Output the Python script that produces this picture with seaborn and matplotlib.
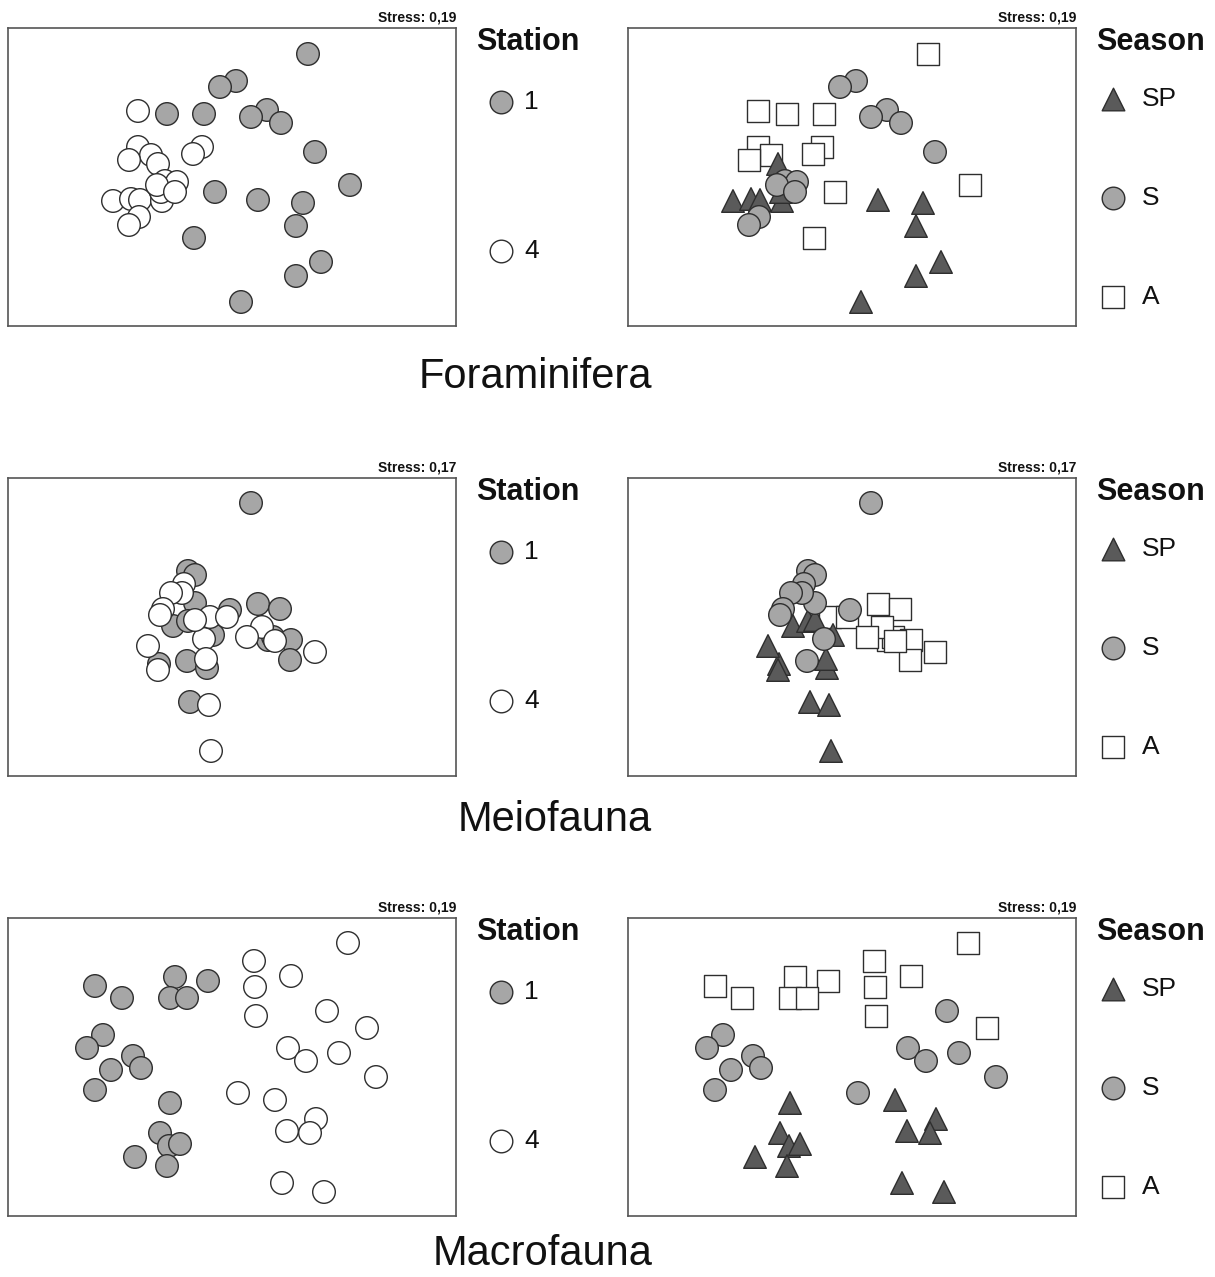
import matplotlib.pyplot as plt
import pandas as pd
import seaborn as sns

# nMDS ordinations : station (1 vs 4) and season (SP, S, A)
sns.set_theme(style="white")
plt.rcParams['font.family'] = ['Liberation Sans', 'DejaVu Sans']

# --- Foraminifera (stress 0,19) ---
FORA_X = [0.76, 0.04, -0.12, -0.65, -0.28, 0.35, 0.19, 0.49, 0.83, 1.18, -0.17, 0.26, 0.71, 0.64, -0.38, 0.89, 0.64, 0.09,
          -0.94, -0.94, -0.81, -1.03, -0.30, -0.39, -0.74, -1.19, -1.01, -0.92, -0.70, -0.71, -0.67, -0.55, -0.75, -0.57, -0.93, -1.03]
FORA_Y = [1.23, 0.96, 0.90, 0.63, 0.63, 0.67, 0.60, 0.54, 0.25, -0.08, -0.15, -0.23, -0.26, -0.49, -0.61, -0.85, -0.99, -1.25,
          0.66, 0.30, 0.22, 0.17, 0.30, 0.23, 0.13, -0.24, -0.22, -0.23, -0.24, -0.15, -0.04, -0.05, -0.08, -0.15, -0.40, -0.48]
FORA_STATION = ['1'] * 18 + ['4'] * 18
FORA_SEASON = ['A', 'S', 'S', 'A', 'A', 'S', 'S', 'S', 'S', 'A', 'A', 'SP', 'SP', 'SP', 'A', 'SP', 'SP', 'SP',
               'A', 'A', 'A', 'A', 'A', 'A', 'SP', 'SP', 'SP', 'SP', 'SP', 'SP', 'S', 'S', 'S', 'S', 'S', 'S']

# --- Meiofauna (stress 0,17) ---
MEIO_X = [0.19, -0.44, -0.37, -0.37, -0.02, -0.45, 0.26, 0.48, 0.36, 0.41, 0.59, 0.58, -0.59, -0.44, -0.19, -0.73, -0.25, -0.42,
          -0.48, -0.50, -0.61, -0.69, -0.72, -0.28, -0.22, -0.05, 0.30, 0.15, 0.43, 0.83, -0.84, -0.74, -0.26, -0.23, -0.21, -0.37]
MEIO_Y = [1.24, 0.56, 0.52, 0.24, 0.17, -0.34, 0.23, 0.18, -0.13, -0.10, -0.13, -0.33, 0.01, 0.06, -0.08, -0.37, -0.41, -0.75,
          0.43, 0.34, 0.34, 0.18, 0.12, -0.12, 0.10, 0.10, 0.00, -0.10, -0.14, -0.25, -0.19, -0.43, -0.32, -0.78, -1.24, 0.07]
MEIO_STATION = ['1'] * 18 + ['4'] * 18
MEIO_SEASON = (['S'] * 6 + ['A'] * 6 + ['SP'] * 6) * 2

# --- Macrofauna (stress 0,19) ---
MACRO_X = [-1.37, -1.10, -0.57, -0.24, -0.62, -0.45, -1.29, -1.45, -0.99, -0.91, -1.21, -1.37, -0.62, -0.72, -0.63, -0.52, -0.97, -0.65,
           1.16, 0.22, 0.23, 0.59, 0.24, 1.35, 0.95, 0.56, 0.74, 1.07, 1.44, 0.06, 0.43, 0.84, 0.55, 0.78, 0.50, 0.92]
MACRO_Y = [0.81, 0.69, 0.90, 0.86, 0.69, 0.69, 0.32, 0.19, 0.11, -0.01, -0.03, -0.23, -0.36, -0.66, -0.79, -0.77, -0.90, -0.99,
           1.24, 1.06, 0.80, 0.91, 0.51, 0.39, 0.56, 0.19, 0.06, 0.14, -0.10, -0.26, -0.33, -0.52, -0.64, -0.66, -1.16, -1.25]
MACRO_STATION = ['1'] * 18 + ['4'] * 18
MACRO_SEASON = (['A'] * 6 + ['S'] * 6 + ['SP'] * 6) * 2

GROUPS = ['Foraminifera', 'Meiofauna', 'Macrofauna']
STRESS = ['0,19', '0,17', '0,19']
STATIONS = ['1', '4']
SEASONS = ['SP', 'S', 'A']

# styles
station_pal = {'1': '#a6a6a6', '4': 'white'}
season_pal = {'SP': '#5a5a5a', 'S': '#a6a6a6', 'A': 'white'}
season_mk = {'SP': '^', 'S': 'o', 'A': 's'}
EDGE = '#2e2e2e'
SIZE = 265

W, H = 1215, 1277
fig = plt.figure(figsize=(W / 100, H / 100), dpi=100)

tables = [
    pd.DataFrame({'NMDS1': FORA_X, 'NMDS2': FORA_Y, 'Station': FORA_STATION, 'Season': FORA_SEASON}),
    pd.DataFrame({'NMDS1': MEIO_X, 'NMDS2': MEIO_Y, 'Station': MEIO_STATION, 'Season': MEIO_SEASON}),
    pd.DataFrame({'NMDS1': MACRO_X, 'NMDS2': MACRO_Y, 'Station': MACRO_STATION, 'Season': MACRO_SEASON}),
]

row_top = [28, 478, 918]        # panel tops (px)
title_base = [388, 831, 1265]   # baseline of the group names (px)
pw, ph = 448, 298


def frame(ax, stress):
    ax.set_xlim(-2.24, 2.24)
    ax.set_ylim(-1.49, 1.49)
    ax.set_xticks([])
    ax.set_yticks([])
    ax.set_xlabel('')
    ax.set_ylabel('')
    for sp in ax.spines.values():
        sp.set_visible(True)
        sp.set_color('#555555')
        sp.set_linewidth(1.2)
    ax.text(1.0, 1.012, f'Stress: {stress}', transform=ax.transAxes, ha='right', va='bottom',
            fontsize=10, fontweight='bold', color='#111111')


def key(left, top, width, title, labels, markers, colors, ys, mx, tx):
    lax = fig.add_axes([left / W, 1 - (top + ph) / H, width / W, ph / H])
    lax.set_xlim(0, width)
    lax.set_ylim(ph, 0)
    lax.axis('off')
    lax.text(20, 14, title, fontsize=22, fontweight='bold', ha='left', va='center', color='#111111')
    for lab, m, c, y in zip(labels, markers, colors, ys):
        lax.scatter([mx], [y], marker=m, s=SIZE, facecolor=c, edgecolor=EDGE, linewidth=1, clip_on=False)
        lax.text(tx, y, lab, fontsize=19, ha='left', va='center', color='#111111')


for i, df in enumerate(tables):
    top = row_top[i]
    bottom = 1 - (top + ph) / H

    # station panel
    ax1 = fig.add_axes([8 / W, bottom, pw / W, ph / H])
    sns.scatterplot(data=df, x='NMDS1', y='NMDS2', hue='Station', palette=station_pal,
                    marker='o', s=SIZE, edgecolor=EDGE, linewidth=1, legend=False, ax=ax1)
    frame(ax1, STRESS[i])

    # season panel (squares under triangles under circles)
    order = {'A': 0, 'SP': 1, 'S': 2}
    dfs = df.assign(o=df['Season'].map(order)).sort_values('o', kind='stable')
    ax2 = fig.add_axes([628 / W, bottom, pw / W, ph / H])
    sns.scatterplot(data=dfs, x='NMDS1', y='NMDS2', hue='Season', style='Season',
                    palette=season_pal, markers=season_mk, s=SIZE, edgecolor=EDGE,
                    linewidth=1, legend=False, ax=ax2)
    frame(ax2, STRESS[i])

    key(456, top, 164, 'Station', STATIONS, ['o', 'o'],
        [station_pal[s] for s in STATIONS], [74, 223], 45, 68)
    key(1076, top, 139, 'Season', SEASONS, [season_mk[s] for s in SEASONS],
        [season_pal[s] for s in SEASONS], [71, 170, 269], 37, 66)

    fig.text(652 / W, 1 - title_base[i] / H, GROUPS[i], fontsize=30, ha='right', va='baseline', color='#111111')

fig.savefig('out.png', dpi=100, facecolor='white')
